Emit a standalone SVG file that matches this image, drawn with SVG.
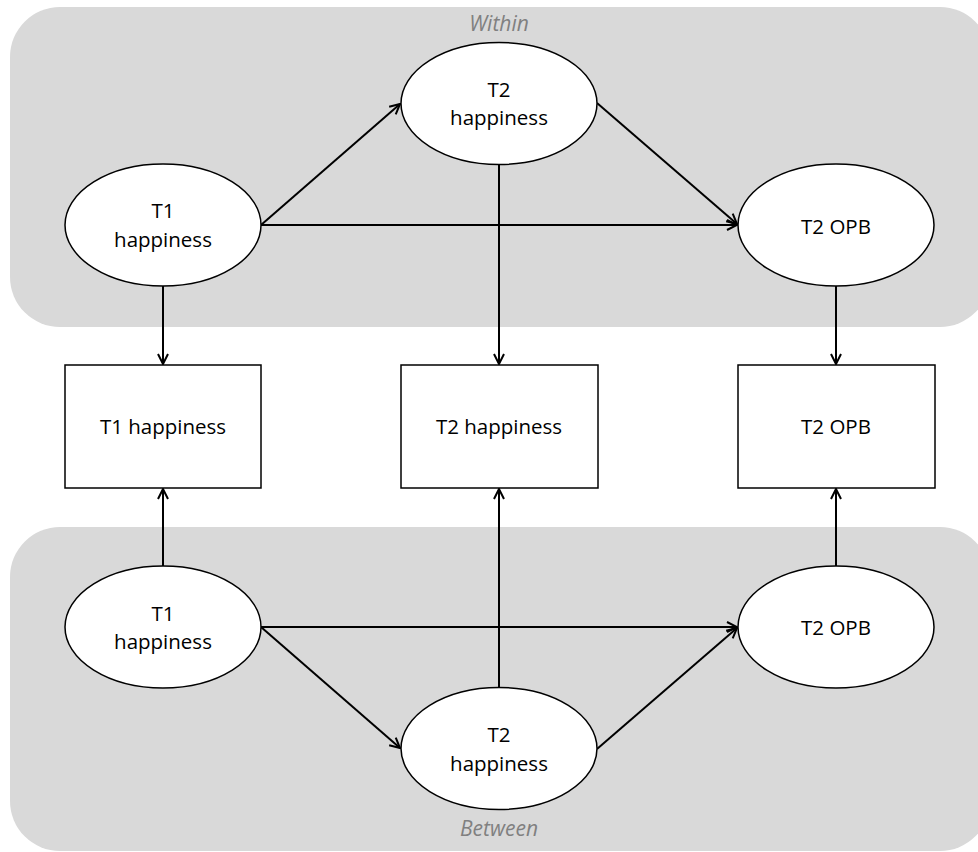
<svg xmlns="http://www.w3.org/2000/svg" width="978" height="852" viewBox="0 0 978 852">
<style>
.panel{fill:#d9d9d9;stroke:none}
.lat{fill:#fff;stroke:#000;stroke-width:1.5}
.obs{fill:#fff;stroke:#000;stroke-width:1.5}
.t{font-family:"Open Sans","Noto Sans",sans-serif;font-size:20.5px;fill:#000;text-anchor:middle}
.lbl{font-family:"Open Sans","Noto Sans",sans-serif;font-size:21px;font-style:italic;fill:#808080;text-anchor:middle}
.c{stroke:#000;stroke-width:2;fill:none;marker-end:url(#ah)}
</style>
<defs>
<marker id="ah" viewBox="0 0 12 12" refX="11" refY="6" markerWidth="12" markerHeight="12" markerUnits="userSpaceOnUse" orient="auto">
<path d="M1,1 L11,6 L1,11" fill="none" stroke="#000" stroke-width="2"/>
</marker>
</defs>
<g id="panel-within">
<rect class="panel" x="10" y="7" width="980" height="320" rx="50"/>
<text class="lbl" x="499" y="31">Within</text>
</g>
<g id="panel-between">
<rect class="panel" x="10" y="527" width="980" height="324" rx="50"/>
<text class="lbl" x="499" y="836">Between</text>
</g>
<g id="connectors">
<line class="c" x1="163" y1="286" x2="163" y2="364"/>
<line class="c" x1="499" y1="164" x2="499" y2="364"/>
<line class="c" x1="836" y1="286" x2="836" y2="364"/>
<line class="c" x1="261" y1="225" x2="400" y2="104"/>
<line class="c" x1="261" y1="225" x2="737" y2="225"/>
<line class="c" x1="597" y1="103" x2="737" y2="224"/>
<line class="c" x1="163" y1="566" x2="163" y2="489"/>
<line class="c" x1="499" y1="688" x2="499" y2="489"/>
<line class="c" x1="836" y1="566" x2="836" y2="489"/>
<line class="c" x1="261" y1="627" x2="737" y2="627"/>
<line class="c" x1="261" y1="627" x2="400" y2="748"/>
<line class="c" x1="597" y1="749" x2="737" y2="628"/>
</g>
<g id="w-t1">
<ellipse class="lat" cx="163" cy="225" rx="98" ry="61"/>
<text class="t" x="163" y="218">T1</text>
<text class="t" x="163" y="247">happiness</text>
</g>
<g id="w-t2">
<ellipse class="lat" cx="499" cy="103.5" rx="98" ry="61"/>
<text class="t" x="499" y="97">T2</text>
<text class="t" x="499" y="125">happiness</text>
</g>
<g id="w-opb">
<ellipse class="lat" cx="836" cy="225" rx="98" ry="61"/>
<text class="t" x="836" y="234">T2 OPB</text>
</g>
<g id="o-t1">
<rect class="obs" x="65" y="365" width="196" height="123"/>
<text class="t" x="163" y="434">T1 happiness</text>
</g>
<g id="o-t2">
<rect class="obs" x="401" y="365" width="197" height="123"/>
<text class="t" x="499" y="434">T2 happiness</text>
</g>
<g id="o-opb">
<rect class="obs" x="738" y="365" width="197" height="123"/>
<text class="t" x="836" y="434">T2 OPB</text>
</g>
<g id="b-t1">
<ellipse class="lat" cx="163" cy="627" rx="98" ry="61"/>
<text class="t" x="163" y="621">T1</text>
<text class="t" x="163" y="649">happiness</text>
</g>
<g id="b-t2">
<ellipse class="lat" cx="499" cy="748.5" rx="98" ry="61"/>
<text class="t" x="499" y="742">T2</text>
<text class="t" x="499" y="771">happiness</text>
</g>
<g id="b-opb">
<ellipse class="lat" cx="836" cy="627" rx="98" ry="61"/>
<text class="t" x="836" y="635">T2 OPB</text>
</g>
</svg>
